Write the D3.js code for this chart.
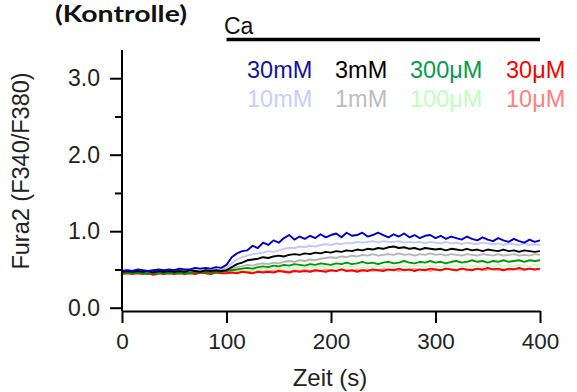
<!DOCTYPE html>
<html><head><meta charset="utf-8">
<script src="https://cdn.jsdelivr.net/npm/d3@7"></script>
<style>body{margin:0;background:#fff}svg{display:block}text{font-family:"Liberation Sans",Arial,sans-serif}</style>
</head><body><svg id="c" width="577" height="392"></svg>
<script>
const times = d3.range(0, 401, 5);
const seriesNames = ["10μM","100μM","1mM","10mM","30μM","300μM","3mM","30mM"];
const c10uM = [0.46,0.47,0.46,0.47,0.46,0.45,0.47,0.46,0.47,0.46,0.45,0.47,0.46,0.47,0.46,0.47,0.46,0.47,0.46,0.47,
 0.47,0.48,0.47,0.48,0.47,0.49,0.48,0.47,0.49,0.48,0.49,0.48,0.47,0.49,0.48,0.50,0.48,0.49,0.48,0.50,0.49,0.48,0.50,0.49,0.48,0.50,0.49,0.50,0.48,0.49,0.51,0.49,0.50,0.48,0.50,0.49,0.51,0.49,0.50,0.48,0.50,0.49,0.51,0.50,0.49,0.51,0.49,0.50,0.51,0.49,0.50,0.51,0.49,0.50,0.49,0.51,0.50,0.49,0.51,0.50,0.50];
const c100uM = [0.45,0.46,0.45,0.46,0.45,0.46,0.45,0.44,0.46,0.45,0.46,0.45,0.46,0.45,0.46,0.45,0.46,0.46,0.45,0.47,
 0.47,0.48,0.49,0.48,0.50,0.49,0.50,0.51,0.50,0.51,0.52,0.51,0.52,0.51,0.53,0.52,0.53,0.52,0.53,0.52,0.54,0.53,0.52,0.54,0.53,0.54,0.52,0.54,0.53,0.55,0.53,0.54,0.53,0.55,0.54,0.53,0.55,0.54,0.53,0.55,0.54,0.53,0.55,0.54,0.55,0.53,0.55,0.54,0.55,0.53,0.55,0.54,0.56,0.54,0.55,0.54,0.56,0.55,0.54,0.56,0.55];
const c1mM = [0.47,0.48,0.47,0.48,0.47,0.46,0.48,0.47,0.48,0.47,0.48,0.47,0.48,0.47,0.48,0.47,0.48,0.48,0.47,0.48,
 0.48,0.51,0.53,0.54,0.56,0.55,0.57,0.58,0.57,0.59,0.58,0.60,0.61,0.60,0.62,0.61,0.63,0.62,0.64,0.65,0.66,0.65,0.67,0.66,0.68,0.67,0.69,0.68,0.70,0.68,0.69,0.70,0.69,0.71,0.69,0.70,0.68,0.70,0.69,0.71,0.69,0.70,0.68,0.70,0.69,0.68,0.70,0.69,0.68,0.70,0.69,0.68,0.70,0.68,0.69,0.70,0.68,0.69,0.68,0.70,0.69];
const c10mM = [0.48,0.49,0.48,0.49,0.48,0.47,0.49,0.48,0.49,0.48,0.49,0.50,0.49,0.48,0.50,0.49,0.50,0.49,0.50,0.50,
 0.52,0.58,0.63,0.66,0.68,0.70,0.71,0.72,0.74,0.73,0.75,0.77,0.78,0.78,0.80,0.79,0.81,0.80,0.82,0.83,0.82,0.84,0.83,0.85,0.84,0.86,0.85,0.86,0.87,0.85,0.87,0.86,0.86,0.87,0.85,0.86,0.85,0.86,0.84,0.86,0.85,0.84,0.86,0.84,0.85,0.83,0.85,0.84,0.83,0.85,0.84,0.83,0.84,0.82,0.84,0.83,0.82,0.84,0.82,0.83,0.82];
const c30uM = [0.44,0.45,0.44,0.45,0.44,0.45,0.43,0.45,0.44,0.45,0.44,0.45,0.44,0.45,0.44,0.46,0.45,0.44,0.46,0.45,
 0.45,0.46,0.45,0.47,0.46,0.45,0.47,0.46,0.47,0.46,0.48,0.47,0.46,0.48,0.47,0.48,0.47,0.49,0.48,0.47,0.49,0.48,0.50,0.48,0.49,0.47,0.49,0.48,0.50,0.49,0.48,0.50,0.49,0.51,0.49,0.50,0.48,0.50,0.49,0.51,0.50,0.49,0.51,0.50,0.49,0.51,0.50,0.49,0.51,0.50,0.52,0.50,0.51,0.49,0.51,0.50,0.52,0.50,0.51,0.50,0.51];
const c300uM = [0.45,0.46,0.45,0.46,0.45,0.44,0.46,0.45,0.46,0.45,0.46,0.45,0.46,0.45,0.47,0.46,0.47,0.46,0.47,0.47,
 0.48,0.49,0.50,0.51,0.52,0.51,0.53,0.54,0.53,0.55,0.54,0.56,0.55,0.57,0.56,0.55,0.57,0.56,0.58,0.57,0.56,0.58,0.57,0.59,0.57,0.58,0.60,0.58,0.59,0.57,0.59,0.60,0.58,0.59,0.61,0.59,0.58,0.60,0.59,0.61,0.59,0.60,0.58,0.60,0.61,0.59,0.60,0.62,0.60,0.61,0.59,0.61,0.60,0.62,0.60,0.61,0.62,0.60,0.62,0.61,0.62];
const c3mM = [0.47,0.48,0.47,0.48,0.47,0.48,0.46,0.48,0.47,0.48,0.47,0.48,0.47,0.49,0.48,0.47,0.49,0.48,0.49,0.48,
 0.49,0.53,0.57,0.59,0.62,0.63,0.64,0.66,0.65,0.67,0.68,0.67,0.69,0.70,0.69,0.71,0.70,0.72,0.71,0.73,0.72,0.74,0.73,0.75,0.74,0.76,0.75,0.77,0.76,0.78,0.77,0.79,0.80,0.78,0.79,0.77,0.78,0.76,0.78,0.77,0.76,0.77,0.75,0.77,0.76,0.75,0.77,0.75,0.76,0.74,0.76,0.75,0.74,0.76,0.74,0.75,0.73,0.75,0.74,0.73,0.74];
const c30mM = [0.48,0.49,0.48,0.50,0.49,0.48,0.49,0.50,0.49,0.50,0.49,0.51,0.50,0.50,0.52,0.51,0.52,0.51,0.53,0.52,
 0.56,0.66,0.71,0.74,0.75,0.81,0.78,0.85,0.82,0.88,0.85,0.91,0.95,0.89,0.93,0.90,0.94,0.91,0.96,0.92,0.95,0.97,0.92,0.98,0.94,0.95,0.98,0.93,0.95,0.98,0.95,0.92,0.96,0.93,0.97,0.92,0.95,0.91,0.94,0.95,0.91,0.94,0.90,0.93,0.91,0.89,0.93,0.90,0.88,0.92,0.89,0.87,0.91,0.88,0.86,0.90,0.87,0.85,0.89,0.86,0.88];
const xTicks = [0,100,200,300,400];
const yMajor = [0,1,2,3];
const yMinor = [0.5,1.5,2.5];
const legendRow1 = ["30mM","3mM","300μM","30μM"];
const legendRow2 = ["10mM","1mM","100μM","10μM"];
const caWindow = [100,400];

const colors = {"30mM":"#0000cc","10mM":"#c4c8ff","3mM":"#000000","1mM":"#b4b4b4","300μM":"#009900","100μM":"#c4ffc4","30μM":"#ff0000","10μM":"#ff9a9a"};
const textColors = {"30mM":"#14149b","10mM":"#c4d0ff","3mM":"#000000","1mM":"#bdbdbd","300μM":"#0a9a4a","100μM":"#c0ffc0","30μM":"#ff0000","10μM":"#ff8080"};
const values = {"10μM":c10uM,"100μM":c100uM,"1mM":c1mM,"10mM":c10mM,"30μM":c30uM,"300μM":c300uM,"3mM":c3mM,"30mM":c30mM};

const svg = d3.select("#c");
const x = d3.scaleLinear().domain([0,400]).range([122,540]);
const y = d3.scaleLinear().domain([0,1]).range([307.7,231.2]);

// traces
const line = d3.line().x((d,i)=>x(times[i])).y(d=>y(d));
seriesNames.forEach(n=>{
  svg.append("path").attr("d", line(values[n])).attr("fill","none")
    .attr("stroke", colors[n]).attr("stroke-width",1.9).attr("stroke-linejoin","round");
});

// y axis
const fmt = d3.format(".1f");
const gy = svg.append("g").attr("transform","translate(122,0)");
gy.call(d3.axisLeft(y).tickValues(yMajor).tickSize(12).tickSizeOuter(0).tickPadding(10).tickFormat(fmt));
gy.append("g").call(d3.axisLeft(y).tickValues(yMinor).tickSize(7).tickSizeOuter(0).tickFormat(""));
gy.selectAll(".domain").remove();
gy.append("line").attr("x1",0).attr("x2",0).attr("y1",50).attr("y2",311).attr("stroke","#000").attr("stroke-width",2);
gy.selectAll(".tick line").attr("stroke","#000").attr("stroke-width",2);
gy.selectAll(".tick text").attr("font-size",23).attr("fill","#222").style("font-family","Liberation Sans, Arial, sans-serif");

// x axis
const gx = svg.append("g").attr("transform","translate(0,311)");
gx.call(d3.axisBottom(x).tickValues(xTicks).tickSize(12).tickSizeOuter(0).tickPadding(10).tickFormat(d3.format("d")));
gx.select(".domain").attr("stroke","#000").attr("stroke-width",2);
gx.selectAll(".tick line").attr("stroke","#000").attr("stroke-width",2);
gx.selectAll(".tick text").attr("font-size",22.5).attr("fill","#222").style("font-family","Liberation Sans, Arial, sans-serif");

// axis titles
svg.append("text").attr("x",330).attr("y",386).attr("text-anchor","middle").attr("font-size",24).attr("fill","#222").text("Zeit (s)");
svg.append("text").attr("transform","translate(29,171) rotate(-90)").attr("text-anchor","middle").attr("font-size",23.5).attr("fill","#222").text("Fura2 (F340/F380)");

// title
svg.append("text").attr("x",121).attr("y",22).attr("text-anchor","middle").attr("font-size",22).attr("font-weight","bold")
  .attr("textLength",132).attr("lengthAdjust","spacingAndGlyphs")
  .style("font-family","Lato, 'Open Sans', sans-serif").attr("fill","#111").text("(Kontrolle)");

// Ca bar
svg.append("text").attr("x",224).attr("y",34).attr("font-size",23).attr("fill","#111").text("Ca");
svg.append("line").attr("x1",x(caWindow[0])).attr("x2",x(caWindow[1])).attr("y1",39.5).attr("y2",39.5).attr("stroke","#000").attr("stroke-width",3.5);

// legend
const legX = [247,335,410,506];
legendRow1.forEach((n,i)=>svg.append("text").attr("x",legX[i]).attr("y",78).attr("font-size",23.5).attr("fill",textColors[n]).text(n));
legendRow2.forEach((n,i)=>svg.append("text").attr("x",legX[i]).attr("y",107).attr("font-size",23.5).attr("fill",textColors[n]).text(n));
</script></body></html>
